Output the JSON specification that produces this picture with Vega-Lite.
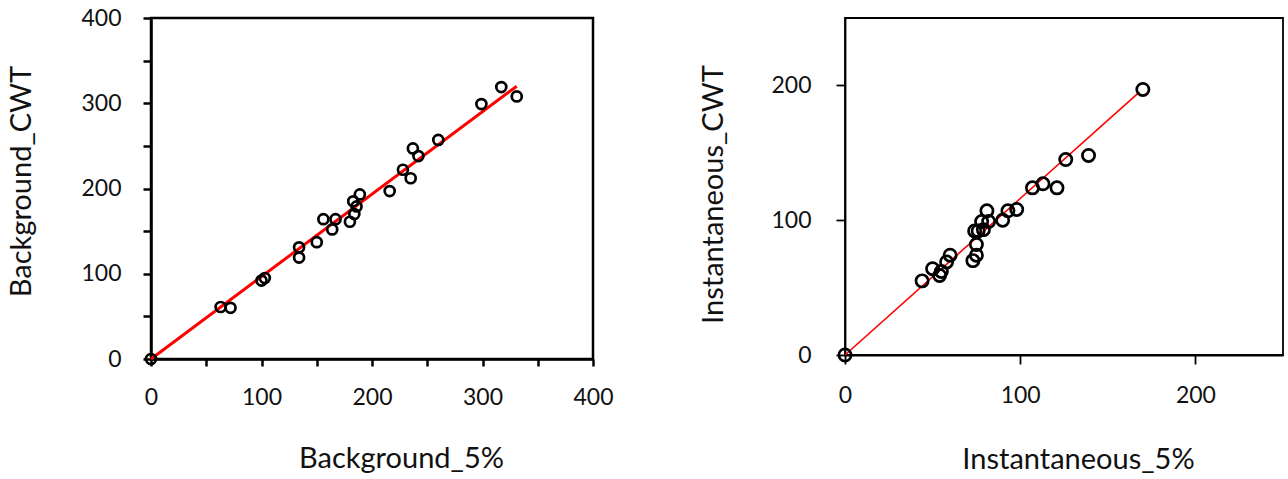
{
  "$schema": "https://vega.github.io/schema/vega-lite/v6.json",
  "background": "white",
  "padding": {"left": 6, "top": 5, "right": 2, "bottom": 5},
  "spacing": 84,
  "config": {
    "font": "Lato",
    "axis": {"labelFont": "Lato", "titleFont": "Lato", "labelColor": "#111", "titleColor": "#111", "labelFontWeight": "normal", "titleFontWeight": "normal", "grid": false, "domainColor": "black", "tickColor": "black", "labelOverlap": false, "labelFlush": false, "labelBound": false}
  },
  "datasets": {
    "bg": [
      {"b5": 0, "bcwt": 0},
      {"b5": 63, "bcwt": 61},
      {"b5": 72, "bcwt": 60},
      {"b5": 100, "bcwt": 92},
      {"b5": 103, "bcwt": 95},
      {"b5": 134, "bcwt": 131},
      {"b5": 134, "bcwt": 119},
      {"b5": 150, "bcwt": 137},
      {"b5": 156, "bcwt": 164},
      {"b5": 164, "bcwt": 152},
      {"b5": 167, "bcwt": 164},
      {"b5": 180, "bcwt": 161},
      {"b5": 183, "bcwt": 185},
      {"b5": 186, "bcwt": 179},
      {"b5": 189, "bcwt": 193},
      {"b5": 184, "bcwt": 170},
      {"b5": 216, "bcwt": 197},
      {"b5": 228, "bcwt": 222},
      {"b5": 235, "bcwt": 212},
      {"b5": 237, "bcwt": 247},
      {"b5": 242, "bcwt": 238},
      {"b5": 260, "bcwt": 257},
      {"b5": 299, "bcwt": 299},
      {"b5": 317, "bcwt": 319},
      {"b5": 331, "bcwt": 308}
    ],
    "bgfit": [
      {"b5": 0, "bcwt": 0},
      {"b5": 331, "bcwt": 320}
    ],
    "inst": [
      {"i5": 0, "icwt": 0},
      {"i5": 44, "icwt": 55},
      {"i5": 50, "icwt": 64},
      {"i5": 54, "icwt": 59},
      {"i5": 55, "icwt": 62},
      {"i5": 58, "icwt": 69},
      {"i5": 60, "icwt": 74},
      {"i5": 73, "icwt": 70},
      {"i5": 75, "icwt": 74},
      {"i5": 75, "icwt": 82},
      {"i5": 74, "icwt": 92},
      {"i5": 76, "icwt": 92},
      {"i5": 79, "icwt": 93},
      {"i5": 78, "icwt": 99},
      {"i5": 81, "icwt": 107},
      {"i5": 82, "icwt": 99},
      {"i5": 90, "icwt": 100},
      {"i5": 93, "icwt": 107},
      {"i5": 98, "icwt": 108},
      {"i5": 107, "icwt": 124},
      {"i5": 113, "icwt": 127},
      {"i5": 121, "icwt": 124},
      {"i5": 126, "icwt": 145},
      {"i5": 139, "icwt": 148},
      {"i5": 170, "icwt": 197}
    ],
    "instfit": [
      {"i5": 0, "icwt": 0},
      {"i5": 168, "icwt": 195}
    ]
  },
  "hconcat": [
    {
      "width": 442,
      "height": 341,
      "view": {"stroke": "black", "strokeWidth": 2.5},
      "layer": [
        {
          "data": {"name": "bgfit"},
          "mark": {"type": "line", "color": "#ff0000", "strokeWidth": 3},
          "encoding": {
            "x": {"field": "b5", "type": "quantitative"},
            "y": {"field": "bcwt", "type": "quantitative"}
          }
        },
        {
          "data": {"name": "bg"},
          "mark": {"type": "point", "shape": "circle", "filled": false, "color": "black", "strokeWidth": 2.7, "size": 100, "opacity": 1},
          "encoding": {
            "x": {"field": "b5", "type": "quantitative",
                  "scale": {"domain": [0, 400], "nice": false, "zero": true},
                  "axis": {"title": "Background_5%", "values": [0, 50, 100, 150, 200, 250, 300, 350, 400],
                           "labelExpr": "datum.value % 100 === 0 ? datum.label : ''",
                           "labelFontSize": 23, "titleFontSize": 29, "tickSize": 7, "tickWidth": 2.5, "domainWidth": 2.5,
                           "labelPadding": 20, "titlePadding": 35, "titleX": 250}},
            "y": {"field": "bcwt", "type": "quantitative",
                  "scale": {"domain": [0, 400], "nice": false, "zero": true},
                  "axis": {"title": "Background_CWT", "values": [0, 50, 100, 150, 200, 250, 300, 350, 400],
                           "labelExpr": "datum.value % 100 === 0 ? datum.label : ''",
                           "labelFontSize": 23, "titleFontSize": 29, "tickSize": 8, "tickWidth": 2.5, "domainWidth": 2.5,
                           "labelPadding": 22, "titlePadding": 44, "titleY": 163}}
          }
        }
      ]
    },
    {
      "width": 438,
      "height": 337,
      "view": {"stroke": "black", "strokeWidth": 1.8},
      "layer": [
        {
          "data": {"name": "instfit"},
          "mark": {"type": "line", "color": "#ff0000", "strokeWidth": 1.6},
          "encoding": {
            "x": {"field": "i5", "type": "quantitative"},
            "y": {"field": "icwt", "type": "quantitative"}
          }
        },
        {
          "data": {"name": "inst"},
          "mark": {"type": "point", "shape": "circle", "filled": false, "color": "black", "strokeWidth": 2.7, "size": 150, "opacity": 1},
          "encoding": {
            "x": {"field": "i5", "type": "quantitative",
                  "scale": {"domain": [0, 250], "nice": false, "zero": true},
                  "axis": {"title": "Instantaneous_5%", "values": [0, 100, 200],
                           "labelFontSize": 23, "titleFontSize": 29, "tickSize": 9, "tickWidth": 1.8, "domainWidth": 1.8,
                           "labelPadding": 20, "titlePadding": 38, "titleX": 233}},
            "y": {"field": "icwt", "type": "quantitative",
                  "scale": {"domain": [0, 250], "nice": false, "zero": true},
                  "axis": {"title": "Instantaneous_CWT", "values": [0, 100, 200],
                           "labelFontSize": 23, "titleFontSize": 29, "tickSize": 9, "tickWidth": 1.8, "domainWidth": 1.8,
                           "labelPadding": 25, "titlePadding": 42, "titleY": 176}}
          }
        }
      ]
    }
  ]
}
